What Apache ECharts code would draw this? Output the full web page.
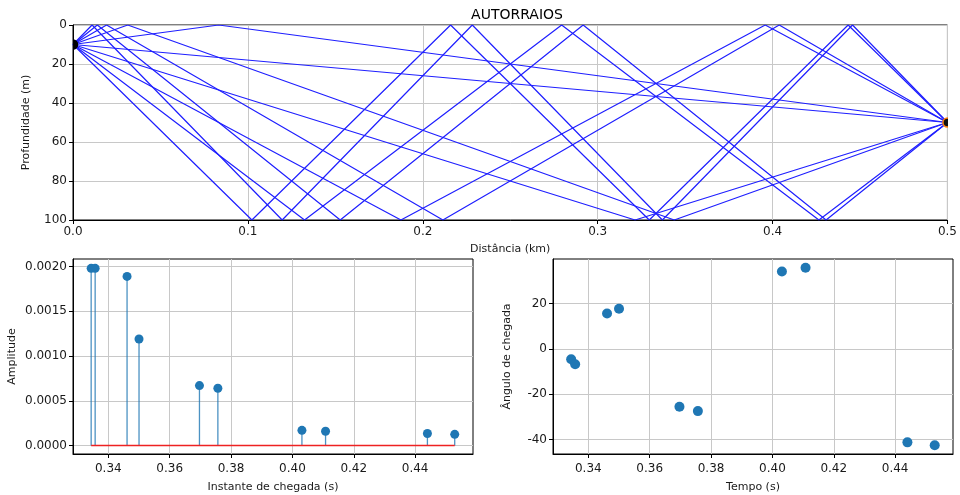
<!DOCTYPE html>
<html>
<head>
<meta charset="utf-8">
<script src="https://cdn.jsdelivr.net/npm/echarts@6/dist/echarts.min.js"></script>
<style>html,body{margin:0;padding:0;background:#fff;}#c{width:960px;height:495px;}</style>
</head>
<body>
<div id="c"></div>
<script>
// ---- Data ----
const title = 'AUTORRAIOS';
// ray paths: [distance (km), depth (m)] vertices (source, reflections, receiver)
const ray1 = [[0, 10], [0.5, 50]];
const ray2 = [[0, 10], [0.0833, 0], [0.5, 50]];
const ray3 = [[0, 10], [0.3214, 100], [0.5, 50]];
const ray4 = [[0, 10], [0.0313, 0], [0.3438, 100], [0.5, 50]];
const ray5 = [[0, 10], [0.1875, 100], [0.3958, 0], [0.5, 50]];
const ray6 = [[0, 10], [0.0192, 0], [0.2115, 100], [0.4038, 0], [0.5, 50]];
const ray7 = [[0, 10], [0.1324, 100], [0.2794, 0], [0.4265, 100], [0.5, 50]];
const ray8 = [[0, 10], [0.0139, 0], [0.1528, 100], [0.2917, 0], [0.4306, 100], [0.5, 50]];
const ray9 = [[0, 10], [0.1023, 100], [0.2159, 0], [0.3295, 100], [0.4432, 0], [0.5, 50]];
const ray10 = [[0, 10], [0.0109, 0], [0.1196, 100], [0.2283, 0], [0.3370, 100], [0.4457, 0], [0.5, 50]];
const rays = [ray1, ray2, ray3, ray4, ray5, ray6, ray7, ray8, ray9, ray10];
const sourcePoint = [0, 10];
const receiverPoint = [0.5, 50];

const arrivalTimes = [0.3344, 0.3357, 0.3461, 0.3500, 0.3697, 0.3757, 0.4031, 0.4108, 0.4440, 0.4529];
const amplitudes = [0.00198, 0.00198, 0.00189, 0.00119, 0.00067, 0.00064, 0.00017, 0.00016, 0.000135, 0.000125];
const angles = [-4.6, -6.8, 15.6, 17.7, -25.6, -27.5, 34.2, 35.8, -41.3, -42.6];

const distTicks = [0, 0.1, 0.2, 0.3, 0.4, 0.5];
const depthTicks = [0, 20, 40, 60, 80, 100];
const timeTicks = [0.34, 0.36, 0.38, 0.40, 0.42, 0.44];
const ampTicks = [0, 0.0005, 0.0010, 0.0015, 0.0020];
const angleTicks = [-40, -20, 0, 20];

// ---- Chart ----
const FONT = 'DejaVu Sans';
const TXT = '#1a1a1a';
const GRIDC = '#c8c8c8';
const RAY = '#1f1fff';

function axisCommon(extra) {
  return Object.assign({
    type: 'value',
    axisLine: { show: true, onZero: false, lineStyle: { color: '#000', width: 1 } },
    axisTick: { show: true, inside: false, length: 4, lineStyle: { color: '#000' } },
    axisLabel: { color: TXT, fontFamily: FONT, fontSize: 12, margin: 6 },
    splitLine: { show: true, lineStyle: { color: GRIDC, width: 1 } },
    nameTextStyle: { color: TXT, fontFamily: FONT, fontSize: 11 },
    nameLocation: 'middle'
  }, extra);
}

const timeMin = 0.32848, timeMax = 0.45886;

const series = [];
rays.forEach((r, i) => {
  series.push({
    type: 'line', xAxisIndex: 0, yAxisIndex: 0, data: r,
    color: RAY,
    symbol: 'none', clip: true, silent: true, animation: false,
    itemStyle: { color: RAY },
    lineStyle: { color: RAY, width: 1.2, opacity: 1 },
    emphasis: { disabled: true }
  });
});
function markerSeries(pt, fill, stroke) {
  return {
    type: 'custom', xAxisIndex: 0, yAxisIndex: 0, clip: true, animation: false, z: 5,
    data: [pt],
    renderItem: function (params, api) {
      const p = api.coord([api.value(0), api.value(1)]);
      return { type: 'circle', shape: { cx: p[0], cy: p[1], r: 4.5 },
        style: { fill: fill, stroke: stroke, lineWidth: 1.5 } };
    }
  };
}
series.push(markerSeries(sourcePoint, '#000', '#000'));
series.push(markerSeries(receiverPoint, '#111', '#ff7f0e'));

const stemData = arrivalTimes.map((t, i) => [t, amplitudes[i]]);
series.push({
  type: 'line', xAxisIndex: 1, yAxisIndex: 1, symbol: 'none', animation: false,
  color: '#ee2222',
  data: [[arrivalTimes[0], 0], [arrivalTimes[arrivalTimes.length - 1], 0]],
  lineStyle: { color: '#ee2222', width: 1.4 }, z: 3
});
series.push({
  type: 'custom', xAxisIndex: 1, yAxisIndex: 1, animation: false, data: stemData, z: 2,
  renderItem: function (params, api) {
    const t = api.value(0), a = api.value(1);
    const p0 = api.coord([t, 0]), p1 = api.coord([t, a]);
    return { type: 'line', shape: { x1: p0[0], y1: p0[1], x2: p1[0], y2: p1[1] },
      style: { stroke: '#1f77b4', lineWidth: 1.3, opacity: 0.8 } };
  }
});
series.push({
  type: 'scatter', xAxisIndex: 1, yAxisIndex: 1, data: stemData, animation: false,
  symbolSize: 9, itemStyle: { color: '#1f77b4', opacity: 1 }, z: 4
});
series.push({
  type: 'scatter', xAxisIndex: 2, yAxisIndex: 2, animation: false,
  data: arrivalTimes.map((t, i) => [t, angles[i]]),
  symbolSize: 10, itemStyle: { color: '#1f77b4', opacity: 1 }
});

const option = {
  animation: false,
  backgroundColor: '#fff',
  title: { text: title, left: 512, top: 3, textAlign: 'center',
    textStyle: { fontFamily: FONT, fontSize: 14, fontWeight: 'normal', color: '#000' } },
  grid: [
    { left: 73, top: 25, width: 879, height: 195, show: true, borderColor: '#000', borderWidth: 1 },
    { left: 73, top: 259, width: 400, height: 195, show: true, borderColor: '#000', borderWidth: 1 },
    { left: 553, top: 259, width: 400, height: 195, show: true, borderColor: '#000', borderWidth: 1 }
  ],
  xAxis: [
    axisCommon({ gridIndex: 0, min: 0, max: 0.5, interval: 0.1, name: 'Distância (km)', nameGap: 24,
      axisLabel: { color: TXT, fontFamily: FONT, fontSize: 12, margin: 6,
        formatter: v => v.toFixed(1) } }),
    axisCommon({ gridIndex: 1, min: timeMin, max: timeMax, name: 'Instante de chegada (s)', nameGap: 28,
      axisTick: { show: true, length: 4, lineStyle: { color: '#000' }, customValues: timeTicks },
      axisLabel: { color: TXT, fontFamily: FONT, fontSize: 12, margin: 9, customValues: timeTicks,
        formatter: v => v.toFixed(2) } }),
    axisCommon({ gridIndex: 2, min: timeMin, max: timeMax, name: 'Tempo (s)', nameGap: 28,
      axisTick: { show: true, length: 4, lineStyle: { color: '#000' }, customValues: timeTicks },
      axisLabel: { color: TXT, fontFamily: FONT, fontSize: 12, margin: 9, customValues: timeTicks,
        formatter: v => v.toFixed(2) } })
  ],
  yAxis: [
    axisCommon({ gridIndex: 0, min: 0, max: 100, interval: 20, inverse: true,
      name: 'Profundidade (m)', nameGap: 41,
      axisLabel: { color: TXT, fontFamily: FONT, fontSize: 12, margin: 6 } }),
    axisCommon({ gridIndex: 1, min: -0.0000945, max: 0.0020845, name: 'Amplitude', nameGap: 55,
      axisTick: { show: true, length: 4, lineStyle: { color: '#000' }, customValues: ampTicks },
      axisLabel: { color: TXT, fontFamily: FONT, fontSize: 12, margin: 6, customValues: ampTicks,
        formatter: v => v.toFixed(4) } }),
    axisCommon({ gridIndex: 2, min: -46.45, max: 39.7, name: 'Ângulo de chegada', nameGap: 40,
      axisTick: { show: true, length: 4, lineStyle: { color: '#000' }, customValues: angleTicks },
      axisLabel: { color: TXT, fontFamily: FONT, fontSize: 12, margin: 6, customValues: angleTicks,
        formatter: v => String(Math.round(v)) } })
  ],
  series: series
};

const chart = echarts.init(document.getElementById('c'), null, { renderer: 'canvas' });
chart.setOption(option);
</script>
</body>
</html>
